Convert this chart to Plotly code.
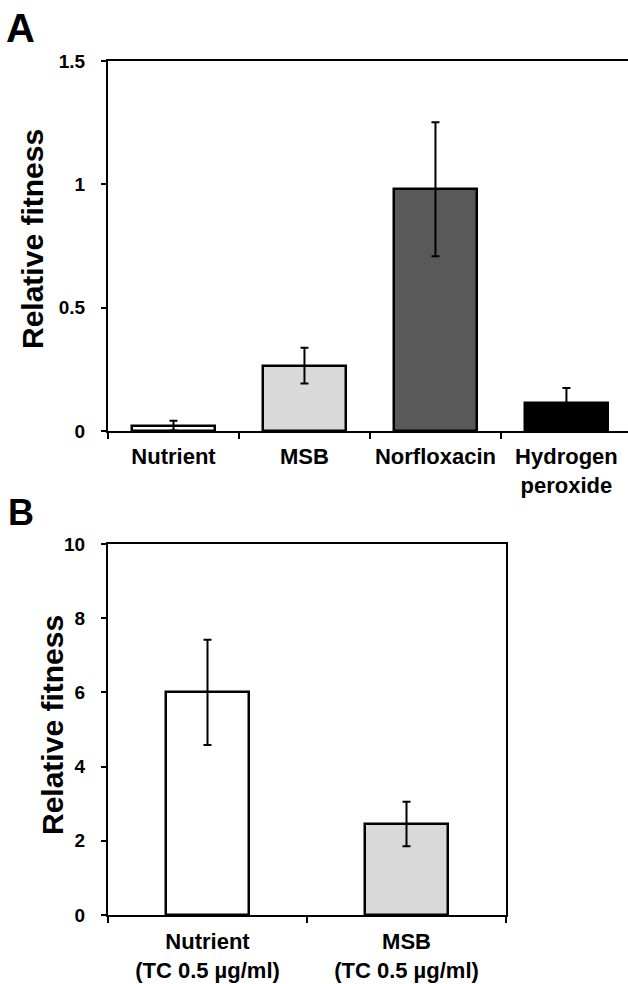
import plotly.graph_objects as go

# Panel A data
cats_a = ["Nutrient", "MSB", "Norfloxacin", "Hydrogen<br>peroxide"]
vals_a = [0.022, 0.265, 0.98, 0.114]
errs_a = [0.02, 0.072, 0.272, 0.06]
colors_a = ["#ffffff", "#d9d9d9", "#595959", "#000000"]
yticks_a = [0, 0.5, 1, 1.5]
yticklabels_a = ["0", "0.5", "1", "1.5"]
ytitle_a = "Relative fitness"

# Panel B data
cats_b = ["Nutrient<br>(TC 0.5 µg/ml)", "MSB<br>(TC 0.5 µg/ml)"]
vals_b = [6.0, 2.45]
errs_b = [1.42, 0.6]
colors_b = ["#ffffff", "#d9d9d9"]
yticks_b = [0, 2, 4, 6, 8, 10]
ytitle_b = "Relative fitness"

FONT = "Liberation Sans, Arial, sans-serif"
W, H = 628, 984

fig = go.Figure()

fig.add_trace(go.Bar(
    x=cats_a, y=vals_a, width=0.63,
    marker=dict(color=colors_a, line=dict(color="black", width=2.5)),
    error_y=dict(type="data", array=errs_a, color="black", thickness=2, width=4),
    xaxis="x", yaxis="y", showlegend=False,
))
fig.add_trace(go.Bar(
    x=cats_b, y=vals_b, width=0.42,
    marker=dict(color=colors_b, line=dict(color="black", width=2.5)),
    error_y=dict(type="data", array=errs_b, color="black", thickness=2, width=4),
    xaxis="x2", yaxis="y2", showlegend=False,
))

def px_x(p):
    return p / W

def px_y(p):
    return 1 - p / H

tickfont = dict(family=FONT, size=19, color="black", weight="bold")
catfont = dict(family=FONT, size=22, color="black", weight="bold")
titlefont = dict(family=FONT, size=30, color="black", weight="bold")

fig.update_layout(
    width=W, height=H,
    margin=dict(l=0, r=0, t=0, b=0),
    paper_bgcolor="white", plot_bgcolor="white",
    bargap=0,
    xaxis=dict(
        domain=[px_x(108), 1.0], range=[-0.5, 3.47],
        type="category", tickson="boundaries", automargin=False,
        showline=True, linecolor="black", linewidth=2, mirror=True,
        ticks="outside", ticklen=6, tickwidth=1.5, tickcolor="black",
        tickfont=catfont, ticklabelstandoff=5,
        showgrid=False, zeroline=False, anchor="y",
    ),
    yaxis=dict(
        domain=[px_y(431), px_y(61)], range=[0, 1.5], automargin=False,
        tickvals=yticks_a, ticktext=yticklabels_a,
        showline=True, linecolor="black", linewidth=2, mirror=False,
        ticks="outside", ticklen=5, tickwidth=1.5, tickcolor="black",
        tickfont=tickfont, ticklabelstandoff=12,
        showgrid=False, zeroline=False, anchor="x",
    ),
    xaxis2=dict(
        domain=[px_x(108), px_x(506)], range=[-0.5, 1.5],
        type="category", tickson="boundaries", automargin=False,
        showline=True, linecolor="black", linewidth=2, mirror=True,
        ticks="outside", ticklen=6, tickwidth=1.5, tickcolor="black",
        tickfont=dict(family=FONT, size=22, color="black", weight="bold"),
        ticklabelstandoff=6,
        showgrid=False, zeroline=False, anchor="y2",
    ),
    yaxis2=dict(
        domain=[px_y(915), px_y(544)], range=[0, 10], automargin=False,
        tickvals=yticks_b,
        showline=True, linecolor="black", linewidth=2, mirror=True,
        ticks="outside", ticklen=5, tickwidth=1.5, tickcolor="black",
        tickfont=tickfont, ticklabelstandoff=12,
        showgrid=False, zeroline=False, anchor="x2",
    ),
    annotations=[
        dict(text="A", x=px_x(4), y=px_y(4), xref="paper", yref="paper",
             xanchor="left", yanchor="top", showarrow=False,
             font=dict(family=FONT, size=40, color="black", weight="bold")),
        dict(text="B", x=px_x(6), y=px_y(490), xref="paper", yref="paper",
             xanchor="left", yanchor="top", showarrow=False,
             font=dict(family=FONT, size=36, color="black", weight="bold")),
        dict(text=ytitle_a, x=px_x(32), y=px_y(239), xref="paper", yref="paper",
             xanchor="center", yanchor="middle", textangle=-90, showarrow=False,
             font=titlefont),
        dict(text=ytitle_b, x=px_x(52), y=px_y(725), xref="paper", yref="paper",
             xanchor="center", yanchor="middle", textangle=-90, showarrow=False,
             font=titlefont),
    ],
)

fig.write_html(
    "out.html",
    config={"displayModeBar": False},
    post_script="document.body.style.margin='0';document.body.style.padding='0';"
                "document.documentElement.style.overflow='hidden';",
)
